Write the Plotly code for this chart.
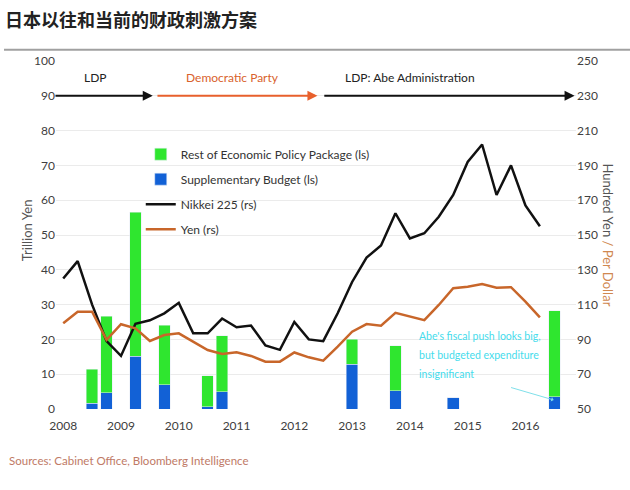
import plotly.graph_objects as go

# ---------------- data ----------------
years = list(range(2008, 2017))
quarters = [f"{y}Q{q}" for y in years for q in range(1, 5)]  # 36 categories
year_ticks = [f"{y}Q1" for y in years]
year_labels = [str(y) for y in years]

line_quarters = quarters[:34]
nikkei = [125, 135, 110, 89, 80.5, 99, 101, 105, 111, 93.5, 93.5, 102, 97, 98, 86.5, 84,
          100, 90, 89, 105, 123, 137, 144, 162.5, 148, 151, 160.5, 173, 192, 202, 173, 190,
          167, 155]
yen = [99.3, 105.9, 105.9, 89.7, 98.7, 96.4, 89.1, 92.5, 93.5, 88.7, 83.9, 81.6, 82.6, 80.5,
       77.2, 77.2, 82.5, 79.7, 77.8, 85.8, 94.4, 98.8, 97.9, 105.3, 103, 101.1, 109.8, 119.4,
       120.3, 121.8, 119.7, 120, 111.7, 102.7]

bar_quarters = ["2008Q3", "2008Q4", "2009Q2", "2009Q4", "2010Q3", "2010Q4",
                "2013Q1", "2013Q4", "2014Q4", "2016Q3"]
supplementary = [1.6, 4.7, 15.2, 6.9, 0.7, 5.0, 12.8, 5.3, 3.3, 3.5]
rest_package = [9.8, 22.0, 41.3, 17.2, 8.9, 16.0, 7.2, 12.9, 0.0, 24.7]

eras = ["LDP", "Democratic Party", "LDP: Abe Administration"]
note_lines = ["Abe's fiscal push looks big,", "but budgeted expenditure", "insignificant"]

# ---------------- style ----------------
FONT = "Lato, sans-serif"
GREEN = "#2fe62f"
BLUE = "#1261d6"
ORANGE = "#c8662a"
TXT = "#404040"

fig = go.Figure()
fig.add_trace(go.Bar(x=bar_quarters, y=supplementary, name="Supplementary Budget (ls)",
                     marker_color=BLUE, legendrank=2, legendgroup="b"))
fig.add_trace(go.Bar(x=bar_quarters, y=rest_package, name="Rest of Economic Policy Package (ls)",
                     marker_color=GREEN, legendrank=1, legendgroup="a"))
fig.add_trace(go.Scatter(x=line_quarters, y=nikkei, name="Nikkei 225 (rs)", mode="lines",
                         line=dict(color="#111111", width=2.5), yaxis="y2",
                         legendrank=3, legendgroup="c"))
fig.add_trace(go.Scatter(x=line_quarters, y=yen, name="Yen (rs)", mode="lines",
                         line=dict(color=ORANGE, width=2.5), yaxis="y2",
                         legendrank=4, legendgroup="d"))

fig.update_layout(
    width=630, height=490,
    margin=dict(l=56, r=54, t=61, b=81),
    paper_bgcolor="white", plot_bgcolor="white",
    font=dict(family=FONT, size=12, color=TXT),
    barmode="stack", bargap=0.2,
    showlegend=True,
    legend=dict(x=0.163, y=0.774, xanchor="left", yanchor="top", bgcolor="rgba(0,0,0,0)",
                font=dict(family=FONT, size=12, color="#333333"), tracegroupgap=6,
                itemwidth=30),
    title=dict(text="<b>日本以往和当前的财政刺激方案</b>", x=0.008, xanchor="left",
               y=0.958, yanchor="middle",
               font=dict(family="Noto Sans CJK SC", size=18, color="#222222")),
    xaxis=dict(type="category", categoryorder="array", categoryarray=quarters,
               range=[-0.5, 35.5], tickmode="array", tickvals=year_ticks, ticktext=year_labels,
               showgrid=False, zeroline=False, showline=False, ticks="",
               ticklabelstandoff=8, tickfont=dict(size=12, color=TXT)),
    yaxis=dict(range=[0, 100], dtick=10, showgrid=True, gridcolor="#ebebeb", gridwidth=1,
               zeroline=False, showline=False, ticks="", tickfont=dict(size=12, color=TXT)),
    yaxis2=dict(range=[50, 250], tick0=50, dtick=20, overlaying="y", side="right",
                showgrid=False, zeroline=False, showline=False, ticks="",
                tickfont=dict(size=12, color=TXT)),
)

# separator line under the title
fig.add_shape(type="line", xref="paper", yref="paper", x0=-0.1, x1=1.11, y0=1.032, y1=1.032,
              line=dict(color="#a0a0a0", width=2))

# era arrows at 90 on the left axis
arrows = [(-0.64, 6.2, "#111111"), (6.42, 17.6, "#e8602c"), (17.97, 35.4, "#111111")]
for x0, x1, col in arrows:
    fig.add_annotation(x=x1, y=90, ax=x0, ay=90, xref="x", yref="y", axref="x", ayref="y",
                       showarrow=True, arrowhead=2, arrowsize=1, arrowwidth=2, arrowcolor=col,
                       text="")
era_pos = [2.2, 11.75, 24.0]
era_cols = ["#222222", "#d9622c", "#222222"]
for label, xp, col in zip(eras, era_pos, era_cols):
    fig.add_annotation(x=xp, y=95.4, xref="x", yref="y", text=label, showarrow=False,
                       font=dict(family=FONT, size=12, color=col))

# cyan commentary (one annotation per line for the looser line spacing)
for line, yv in zip(note_lines, [21.0, 15.5, 10.0]):
    fig.add_annotation(x=24.5, y=yv, xref="x", yref="y", xanchor="left", yanchor="middle",
                       align="left", showarrow=False, text=line,
                       font=dict(family=FONT, size=10.5, color="#45dcec"))
fig.add_annotation(x=33.95, y=2.6, ax=30.9, ay=6.3, xref="x", yref="y", axref="x", ayref="y",
                   showarrow=True, arrowhead=1, arrowsize=0.8, arrowwidth=1,
                   arrowcolor="#7fe0ea", text="")

# axis titles
fig.add_annotation(x=-0.075, y=0.514, xref="paper", yref="paper", text="Trillion Yen",
                   textangle=-90, showarrow=False, font=dict(family=FONT, size=13, color="#555555"))
fig.add_annotation(x=1.08, y=0.5, xref="paper", yref="paper",
                   text="Hundred Yen <span style='color:#d08850'>/ Per Dollar</span>",
                   textangle=90, showarrow=False, font=dict(family=FONT, size=13, color="#555555"))

# source
fig.add_annotation(x=-0.094, y=-0.149, xref="paper", yref="paper", xanchor="left",
                   yanchor="middle", text="Sources: Cabinet Office, Bloomberg Intelligence",
                   showarrow=False, font=dict(family=FONT, size=11.5, color="#c07a66"))

fig.write_html("out.html", config={"displayModeBar": False},
               post_script="document.body.style.margin='0px';")
